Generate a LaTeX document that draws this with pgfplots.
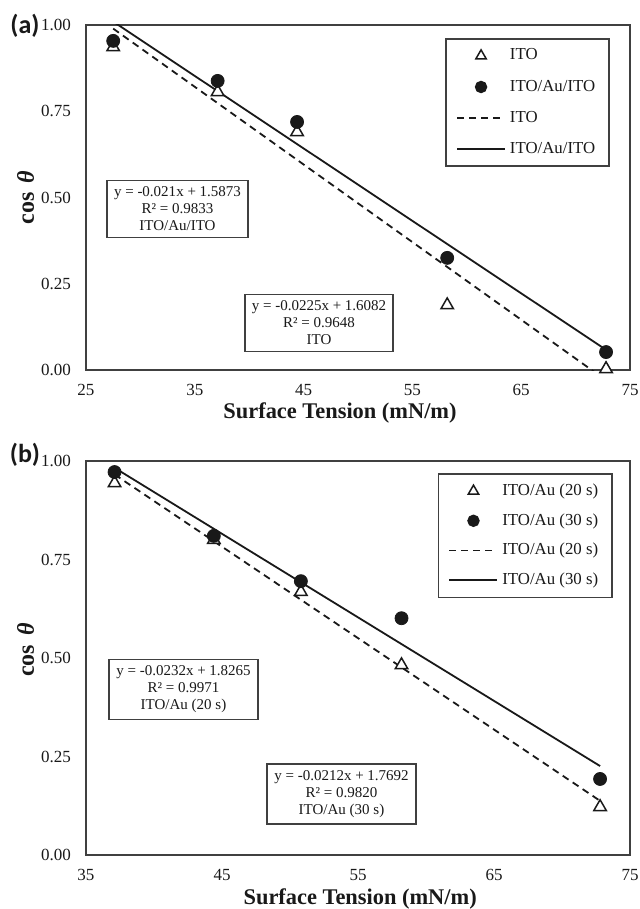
\documentclass[border=0pt]{standalone}
\usepackage{fontspec}
\setmainfont{Liberation Serif}
\newfontfamily\calibri{Carlito}
\usepackage{pgfplots}
\pgfplotsset{compat=1.18}
\definecolor{frame}{gray}{0.25}
\definecolor{ink}{gray}{0.1}
\pgfplotsset{
  mystyle/.style={
    scale only axis, width=272pt,
    axis line style={frame, line width=0.9pt},
    major tick length=0pt,
    tick style={draw=none},
    ymin=0, ymax=1, ytick={0,0.25,0.5,0.75,1},
    yticklabel style={/pgf/number format/.cd, fixed, fixed zerofill, precision=2, /tikz/.cd, font=\fontsize{8.5}{10}\selectfont, text=ink, xshift=-4pt},
    xticklabel style={font=\fontsize{8.5}{10}\selectfont, text=ink, yshift=-3.5pt},
    /pgf/number format/assume math mode=true,
    label style={font=\fontsize{11.2}{13}\selectfont\bfseries, text=ink},
    legend style={draw=frame, line width=0.8pt, font=\fontsize{8.4}{10}\selectfont, text=ink,
      at={(1,1)}, anchor=north east, inner xsep=5pt, inner ysep=3pt},
    legend cell align=left,
    legend image code/.code={\draw[mark repeat=2,mark phase=2,##1] plot coordinates {(0pt,0pt) (12pt,0pt) (24pt,0pt)};},
    tri/.style={only marks, mark=triangle*, mark size=3.6pt, mark options={draw=ink, fill=white, line width=0.75pt}, legend image post style={mark size=3.0pt}},
    dot/.style={only marks, mark=*, mark size=3.25pt, mark options={draw=ink, fill=ink}, legend image post style={mark size=2.7pt}},
    dline/.style={no markers, ink, line width=0.9pt, dash pattern=on 3.5pt off 2.5pt},
    sline/.style={no markers, ink, line width=0.9pt},
  },
}
\tikzset{box/.style={draw=frame, line width=0.8pt, fill=white, align=center, font=\fontsize{7.5}{8.5}\selectfont, text=ink, inner xsep=3.5pt, inner ysep=3.2pt}}
\newcommand{\costheta}{cos\hspace{0.12em} \textit{θ}}
\begin{document}
\begin{tikzpicture}
\useasboundingbox (0,0) rectangle (319.5pt,-454.5pt);
\begin{axis}[mystyle, name=A, at={(43pt,-185pt)}, anchor=south west, height=172.5pt,
  xmin=25, xmax=75, xtick={25,35,45,55,65,75},
  xlabel={Surface Tension (mN/m)}, ylabel={\costheta},
  xlabel style={at={(axis description cs:0.467,-0.1246)}, anchor=center},
  ylabel style={at={(axis description cs:-0.111,0.5)}, anchor=center, font=\fontsize{12}{14}\selectfont\bfseries},
  legend style={xshift=-10pt, yshift=-6.5pt, row sep=4.5pt},
]
\addplot[tri] coordinates {(27.5,0.936) (37.1,0.806) (44.4,0.690) (58.2,0.188) (72.8,0.003)};
\addlegendentry{ITO}
\addplot[dot] coordinates {(27.5,0.954) (37.1,0.838) (44.4,0.719) (58.2,0.325) (72.8,0.052)};
\addlegendentry{ITO/Au/ITO}
\addplot[dline] coordinates {(27.5,0.9895) (72.8,-0.0298)};
\addlegendentry{ITO}
\addplot[sline] coordinates {(27.5,1.0098) (72.8,0.0585)};
\addlegendentry{ITO/Au/ITO}
\end{axis}
\node[box] at (88.75pt,-104.5pt) {y = -0.021x + 1.5873\\R² = 0.9833\\ITO/Au/ITO};
\node[box] at (159.5pt,-161.5pt) {y = -0.0225x + 1.6082\\R² = 0.9648\\ITO};
\node[font=\calibri\bfseries\fontsize{13}{15}\selectfont, text=ink, anchor=center, xshift=-30.5pt, yshift=-0.5pt] at (A.north west) {(a)};
\begin{axis}[mystyle, name=B, at={(43pt,-427.5pt)}, anchor=south west, height=197pt,
  xmin=35, xmax=75, xtick={35,45,55,65,75},
  xlabel={Surface Tension (mN/m)}, ylabel={\costheta},
  xlabel style={at={(axis description cs:0.504,-0.1117)}, anchor=center},
  ylabel style={at={(axis description cs:-0.111,0.52)}, anchor=center, font=\fontsize{12}{14}\selectfont\bfseries},
  legend style={xshift=-8.5pt, yshift=-6pt, row sep=3.5pt},
]
\addplot[tri] coordinates {(37.1,0.944) (44.4,0.800) (50.8,0.668) (58.2,0.482) (72.8,0.122)};
\addlegendentry{ITO/Au (20 s)}
\addplot[dot] coordinates {(37.1,0.972) (44.4,0.810) (50.8,0.695) (58.2,0.601) (72.8,0.193)};
\addlegendentry{ITO/Au (30 s)}
\addplot[dline] coordinates {(37.1,0.9658) (72.8,0.1375)};
\addlegendentry{ITO/Au (20 s)}
\addplot[sline] coordinates {(37.1,0.9827) (72.8,0.2258)};
\addlegendentry{ITO/Au (30 s)}
\end{axis}
\node[box] at (91.75pt,-344.75pt) {y = -0.0232x + 1.8265\\R² = 0.9971\\ITO/Au (20 s)};
\node[box] at (170.75pt,-397pt) {y = -0.0212x + 1.7692\\R² = 0.9820\\ITO/Au (30 s)};
\node[font=\calibri\bfseries\fontsize{13}{15}\selectfont, text=ink, anchor=center, xshift=-30.5pt, yshift=3pt] at (B.north west) {(b)};
\end{tikzpicture}
\end{document}
